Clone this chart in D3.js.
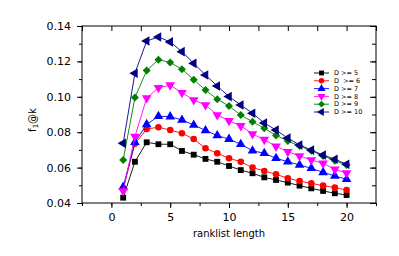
<!DOCTYPE html>
<html>
<head>
<meta charset="utf-8">
<script src="https://cdn.jsdelivr.net/npm/d3@7"></script>
<style>
  body { margin: 0; background: #fff; }
  svg { display: block; font-family: "DejaVu Sans", sans-serif; }
</style>
</head>
<body>
<svg id="chart" width="399" height="256"></svg>
<script>
// ranklist length k = 1..20
var ranks = d3.range(1, 21);

var seriesNames = ["D >= 5", "D  >= 6", "D >= 7", "D >= 8", "D >= 9", "D >= 10"];

var d5  = [0.0430, 0.0633, 0.0743, 0.0732, 0.0732, 0.0694, 0.0673, 0.0649, 0.0633, 0.0609,
           0.0586, 0.0568, 0.0545, 0.0530, 0.0515, 0.0498, 0.0483, 0.0468, 0.0455, 0.0445];
var d6  = [0.0480, 0.0735, 0.0818, 0.0828, 0.0812, 0.0794, 0.0762, 0.0709, 0.0681, 0.0653,
           0.0633, 0.0600, 0.0581, 0.0562, 0.0540, 0.0524, 0.0511, 0.0498, 0.0487, 0.0473];
var d7  = [0.0490, 0.0743, 0.0844, 0.0890, 0.0888, 0.0869, 0.0841, 0.0810, 0.0781, 0.0761,
           0.0732, 0.0695, 0.0681, 0.0653, 0.0633, 0.0615, 0.0596, 0.0573, 0.0553, 0.0534];
var d8  = [0.0468, 0.0775, 0.0993, 0.1051, 0.1066, 0.1023, 0.0982, 0.0954, 0.0897, 0.0865,
           0.0836, 0.0790, 0.0758, 0.0720, 0.0690, 0.0666, 0.0643, 0.0624, 0.0590, 0.0569];
var d9  = [0.0643, 0.0996, 0.1148, 0.1210, 0.1194, 0.1156, 0.1097, 0.1038, 0.0986, 0.0948,
           0.0897, 0.0859, 0.0822, 0.0782, 0.0750, 0.0722, 0.0695, 0.0666, 0.0639, 0.0615];
var d10 = [0.0737, 0.1133, 0.1315, 0.1338, 0.1310, 0.1255, 0.1189, 0.1123, 0.1061, 0.1001,
           0.0954, 0.0907, 0.0852, 0.0812, 0.0767, 0.0728, 0.0699, 0.0671, 0.0647, 0.0619];

var xTicks = [0, 5, 10, 15, 20];
var yTicks = [0.04, 0.06, 0.08, 0.10, 0.12, 0.14];

var allSeries = [d5, d6, d7, d8, d9, d10];
var colours = ["#000000", "#ff0000", "#0000ff", "#ff00ff", "#008000", "#000080"];
// symbol type + rotation for each series
var shapes = [
  {type: d3.symbolSquare, rot: 0, size: 34},
  {type: d3.symbolCircle, rot: 0, size: 34},
  {type: d3.symbolTriangle, rot: 0, size: 40},
  {type: d3.symbolTriangle, rot: 180, size: 40},
  {type: d3.symbolSquare, rot: 45, size: 32},
  {type: d3.symbolTriangle, rot: -90, size: 40}
];

var svg = d3.select("#chart");
var plot = {left: 82, right: 376, top: 26, bottom: 203};

var x = d3.scaleLinear().domain([-2.5, 22.5]).range([plot.left, plot.right]);
var y = d3.scaleLinear().domain([0.04, 0.14]).range([plot.bottom, plot.top]);

var minorX = d3.range(-2.5, 22.6, 2.5);
var minorY = d3.range(0.04, 0.1401, 0.01);

// axes: left/bottom ticks point out, top/right mirrored point in
svg.append("g")
    .attr("transform", `translate(0,${plot.bottom})`)
    .call(d3.axisBottom(x).tickValues(minorX).tickSize(3).tickFormat(""));
svg.append("g")
    .attr("transform", `translate(0,${plot.bottom})`)
    .call(d3.axisBottom(x).tickValues(xTicks).tickSize(5).tickPadding(5).tickFormat(d3.format("d")));
svg.append("g")
    .attr("transform", `translate(0,${plot.top})`)
    .call(d3.axisBottom(x).tickValues(minorX).tickSize(5).tickFormat(""));

svg.append("g")
    .attr("transform", `translate(${plot.left},0)`)
    .call(d3.axisLeft(y).tickValues(minorY).tickSize(3).tickFormat(""));
svg.append("g")
    .attr("transform", `translate(${plot.left},0)`)
    .call(d3.axisLeft(y).tickValues(yTicks).tickSize(5).tickPadding(6).tickFormat(d3.format(".2f")));
svg.append("g")
    .attr("transform", `translate(${plot.right},0)`)
    .call(d3.axisLeft(y).tickValues(minorY).tickSize(-4).tickFormat(""))
    .call(g => g.selectAll(".tick line").attr("x2", -4));
svg.append("g")
    .attr("transform", `translate(${plot.right},0)`)
    .call(d3.axisLeft(y).tickValues(yTicks).tickSize(-6).tickFormat(""))
    .call(g => g.selectAll(".tick line").attr("x2", -6));

svg.selectAll(".domain").remove();
svg.selectAll(".tick text").attr("font-family", "DejaVu Sans").attr("font-size", 11).attr("fill", "#000");

// frame
svg.append("rect")
    .attr("x", plot.left).attr("y", plot.top)
    .attr("width", plot.right - plot.left).attr("height", plot.bottom - plot.top)
    .attr("fill", "none").attr("stroke", "#000").attr("stroke-width", 1);

// axis titles
svg.append("text")
    .attr("x", x(10)).attr("y", 237)
    .attr("text-anchor", "middle")
    .attr("font-size", 10)
    .text("ranklist length");

var yTitle = svg.append("text")
    .attr("transform", "translate(36,120) rotate(-90)")
    .attr("text-anchor", "middle")
    .attr("font-size", 10);
yTitle.append("tspan").text("f");
yTitle.append("tspan").attr("font-size", 7).attr("dy", 2).text("1");
yTitle.append("tspan").attr("dy", -2).text("@k");

// lines + markers
var line = d3.line()
    .x(function(d, i) { return x(ranks[i]); })
    .y(function(d) { return y(d); });

for (var i = 0; i < allSeries.length; i++) {
  var g = svg.append("g").attr("class", "series-" + i);
  g.append("path")
      .datum(allSeries[i])
      .attr("fill", "none")
      .attr("stroke", colours[i])
      .attr("stroke-width", 0.9)
      .attr("d", line);
  var sym = d3.symbol().type(shapes[i].type).size(shapes[i].size);
  g.selectAll("path.mark")
      .data(allSeries[i])
      .join("path")
      .attr("class", "mark")
      .attr("d", sym)
      .attr("fill", colours[i])
      .attr("transform", (d, j) => `translate(${x(ranks[j])},${y(d)}) rotate(${shapes[i].rot})`);
}

// legend
var key = svg.append("g").attr("class", "legend");
for (var i = 0; i < seriesNames.length; i++) {
  var ly = 73 + i * 7.8;
  key.append("line")
      .attr("x1", 314).attr("x2", 329)
      .attr("y1", ly).attr("y2", ly)
      .attr("stroke", colours[i]).attr("stroke-width", 0.9);
  key.append("path")
      .attr("d", d3.symbol().type(shapes[i].type).size(shapes[i].size * 0.7)())
      .attr("fill", colours[i])
      .attr("transform", `translate(321.5,${ly}) rotate(${shapes[i].rot})`);
  key.append("text")
      .attr("x", 334).attr("y", ly)
      .attr("dy", "0.35em")
      .attr("font-size", 6.5)
      .attr("xml:space", "preserve")
      .style("white-space", "pre")
      .text(seriesNames[i]);
}
</script>
</body>
</html>
